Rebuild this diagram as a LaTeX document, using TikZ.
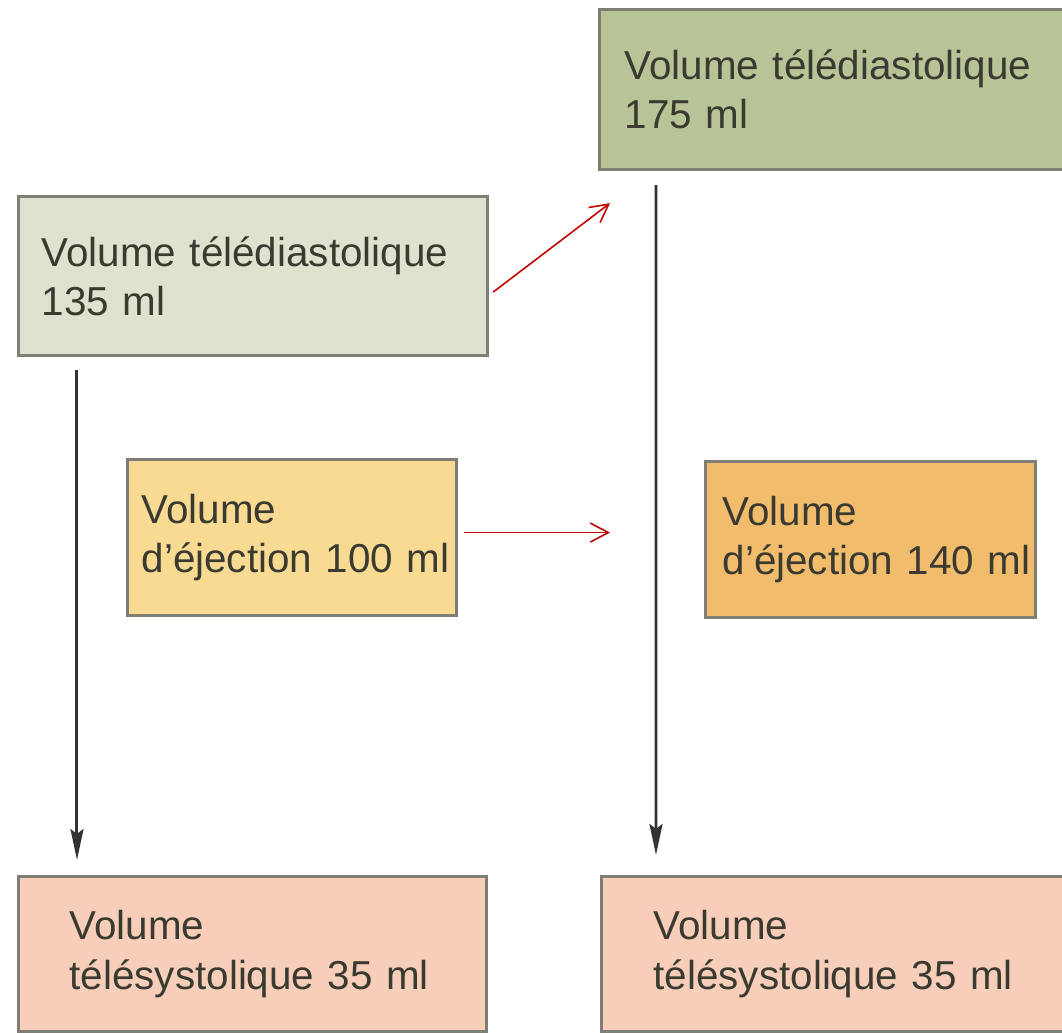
\documentclass[tikz,border=0pt]{standalone}
\usepackage{fontspec}
\setmainfont[WordSpace=0.55]{Liberation Sans}
\usetikzlibrary{arrows.meta,calc}
\definecolor{boxA}{HTML}{DEE2CF}
\definecolor{boxB}{HTML}{B9C398}
\definecolor{boxC}{HTML}{F8DA92}
\definecolor{boxD}{HTML}{F1BD6D}
\definecolor{boxE}{HTML}{F6CEB9}
\definecolor{edgeG}{HTML}{7E7E74}
\definecolor{txt}{HTML}{3A3A30}
\definecolor{redarr}{HTML}{C40000}
\definecolor{darkarr}{HTML}{333333}
\tikzset{
  vbox/.style={draw=edgeG, line width=1.8pt, rectangle, align=left, text=txt,
    font=\fontsize{23}{28}\selectfont, inner ysep=0pt, anchor=north west},
  downarrow/.style={draw=darkarr, line width=1.7pt, -{Stealth[length=0.62cm,width=0.26cm,inset=0.1cm]}},
  redarrow/.style={draw=redarr, line width=0.9pt, -{Straight Barb[length=0.36cm,width=0.38cm]}}
}
\begin{document}
\begin{tikzpicture}[x=0.02cm,y=-0.02cm]
\useasboundingbox (0,0) rectangle (1062,1033);
% boxes: width w, left margin m -> text width = w-2m, inner xsep = m
\node[vbox, fill=boxA, inner xsep=23*0.02cm, text width=(469-46)*0.02cm, minimum height=159*0.02cm] (A) at (17,195)
  {\mbox{Volume télédiastolique}\\\mbox{135 ml}};
\node[vbox, fill=boxB, inner xsep=25*0.02cm, text width=(480-50)*0.02cm, minimum height=160*0.02cm] (B) at (598,8)
  {\mbox{Volume télédiastolique}\\\mbox{175 ml}};
\node[vbox, fill=boxC, inner xsep=14*0.02cm, text width=(329-28)*0.02cm, minimum height=156*0.02cm] (C) at (126,458)
  {\mbox{Volume}\\\mbox{d’éjection 100 ml}};
\node[vbox, fill=boxD, inner xsep=17*0.02cm, text width=(330-34)*0.02cm, minimum height=156*0.02cm] (D) at (704,460)
  {\mbox{Volume}\\\mbox{d’éjection 140 ml}};
\node[vbox, fill=boxE, inner xsep=51*0.02cm, text width=(468-102)*0.02cm, minimum height=155*0.02cm] (E) at (17,875)
  {\mbox{Volume}\\\mbox{télésystolique 35 ml}};
\node[vbox, fill=boxE, inner xsep=52*0.02cm, text width=(470-104)*0.02cm, minimum height=155*0.02cm] (F) at (600,875)
  {\mbox{Volume}\\\mbox{télésystolique 35 ml}};
% vertical arrows
\draw[downarrow, shorten <=0.26cm, shorten >=0.3cm] ([xshift=1.2cm]A.south west) -- ([xshift=1.2cm]E.north west);
\draw[downarrow, shorten <=0.28cm, shorten >=0.4cm] ([xshift=1.16cm]B.south west) -- ([xshift=1.12cm]F.north west);
% red arrows
\draw[redarrow] ($(A.east)+(4,16)$) -- ($(B.south west)+(12,32)$);
\draw[redarrow] ($(C.east)+(6,-5)$) -- ($(D.west)+(-94,-7)$);
\end{tikzpicture}
\end{document}
